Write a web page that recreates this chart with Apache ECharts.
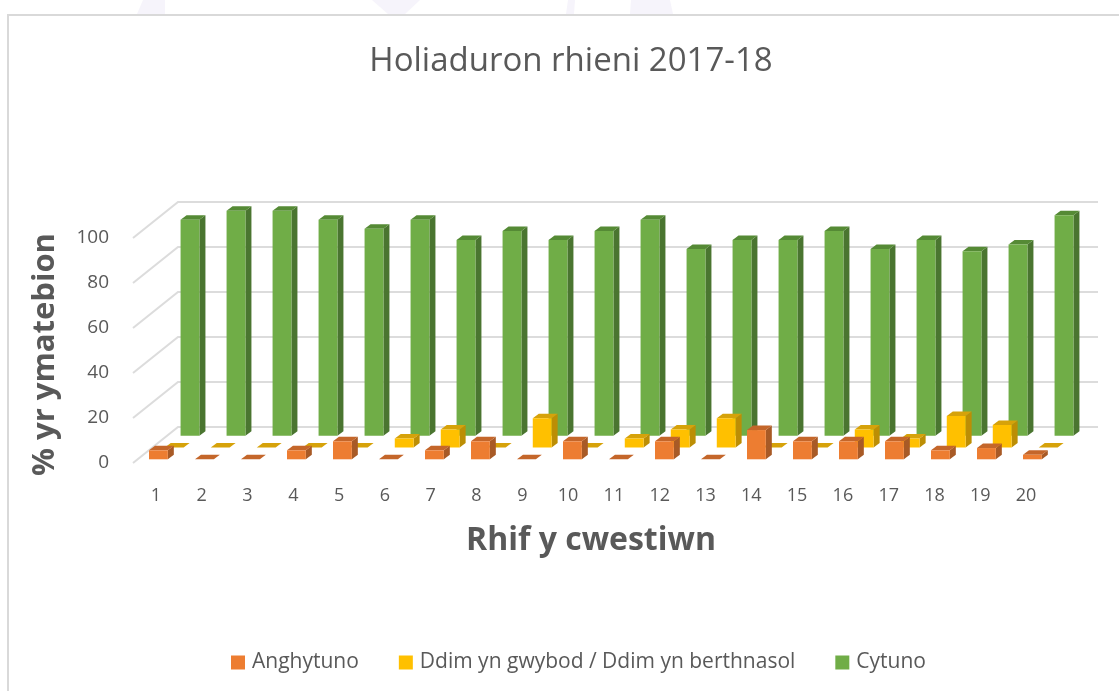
<!DOCTYPE html>
<html>
<head>
<meta charset="utf-8">
<title>Holiaduron rhieni 2017-18</title>
<script src="https://cdn.jsdelivr.net/npm/echarts@6/dist/echarts.min.js"></script>
<style>
  html, body { margin: 0; padding: 0; background: #fff; }
  #chart { width: 1119px; height: 691px; filter: blur(0.6px); }
</style>
</head>
<body>
<div id="chart"></div>
<script>
const questions = ["1","2","3","4","5","6","7","8","9","10","11","12","13","14","15","16","17","18","19","20"];
const anghytuno = [4,0,0,4,8,0,4,8,0,8,0,8,0,13,8,8,8,4,5,2];
const ddimYnGwybod = [0,0,0,0,0,4,8,0,13,0,4,8,13,0,0,8,4,14,10,0];
const cytuno = [96,100,100,96,92,96,87,91,87,91,96,83,87,87,91,83,87,82,85,98];
const gridValues = [0,20,40,60,80,100];

const textColor = "#595959";
const font = '"Open Sans", sans-serif';

// fake 3D: each row of bars sits further back on the floor
function barRenderer(row, colors) {
  return function (params, api) {
    const i = api.value(0);
    const base = api.coord([i, 0]);
    const top = api.coord([i, api.value(1)]);
    const w = api.size([1, 0])[0] * 0.41;
    const x0 = base[0] + row.dx - w / 2;
    const x1 = x0 + w;
    const yb = base[1] + row.dy;
    const yt = top[1] + row.dy;
    const d = 6, e = 4.5;
    const poly = (points, fill) => ({ type: "polygon", shape: { points }, style: { fill } });
    return {
      type: "group",
      children: [
        poly([[x1, yt], [x1 + d, yt - e], [x1 + d, yb - e], [x1, yb]], colors.side),
        poly([[x0, yt], [x0 + d, yt - e], [x1 + d, yt - e], [x1, yt]], colors.top),
        poly([[x0, yt], [x1, yt], [x1, yb], [x0, yb]], colors.front),
      ],
    };
  };
}

function barSeries(name, values, row, colors, z) {
  return {
    name,
    type: "custom",
    xAxisIndex: 1,
    yAxisIndex: 1,
    z,
    itemStyle: { color: colors.front },
    data: values.map((v, i) => [i, v]),
    encode: { x: 0, y: 1 },
    renderItem: barRenderer(row, colors),
  };
}

// back wall and side wall lines
function wallLine(params, api) {
  const p = api.coord([0, api.value(0)]);
  const left = params.coordSys.x;
  const lineStyle = { stroke: "#dcdcdc", lineWidth: 2, fill: "none" };
  return {
    type: "polyline",
    shape: { points: [[left, p[1]], [left + 45, p[1] - 36], [left + 965, p[1] - 36]] },
    style: lineStyle,
  };
}

const watermark = [
  [[137, 14], [143, 0], [165, 0], [165, 14]],
  [[372, 0], [420, 0], [405, 14], [388, 14]],
  [[566, 14], [568, 0], [575, 0], [574, 14]],
  [[630, 14], [631, 0], [670, 0], [673, 14]],
].map((points) => ({
  type: "polygon",
  shape: { points },
  style: { fill: "#f6f4fb" },
  silent: true,
}));

const chart = echarts.init(document.getElementById("chart"));
chart.setOption({
  animation: false,
  backgroundColor: "#fff",
  textStyle: { fontFamily: font },
  graphic: [
    ...watermark,
    {
      type: "rect",
      shape: { x: 8, y: 15, width: 1300, height: 900 },
      style: { fill: "#fff", stroke: "#d9d9d9", lineWidth: 2 },
      silent: true,
      z: -1,
    },
  ],
  title: {
    text: "Holiaduron rhieni 2017-18",
    left: 566,
    top: 40,
    textAlign: "center",
    textStyle: { color: textColor, fontSize: 33, fontWeight: "normal", fontFamily: font },
  },
  legend: {
    data: ["Anghytuno", "Ddim yn gwybod / Ddim yn berthnasol", "Cytuno"],
    left: 231,
    top: 652,
    padding: 0,
    icon: "rect",
    itemWidth: 14,
    itemHeight: 14,
    itemGap: 40,
    textStyle: { color: textColor, fontSize: 21, fontFamily: font, padding: [0, 0, 0, 2] },
  },
  grid: [
    // labels sit on a slightly tighter spacing than the bars
    { left: 133, top: 238, width: 916, height: 225 },
    { left: 135.4, top: 238, width: 920, height: 225 },
  ],
  xAxis: [
    {
      type: "category",
      gridIndex: 0,
      data: questions,
      axisLine: { show: false },
      axisTick: { show: false },
      axisLabel: { color: textColor, fontSize: 18, margin: 24 },
      name: "Rhif y cwestiwn",
      nameLocation: "middle",
      nameGap: 62,
      nameTextStyle: { color: textColor, fontSize: 32, fontWeight: "bold" },
    },
    { type: "category", gridIndex: 1, data: questions, show: false },
  ],
  yAxis: [
    {
      type: "value",
      gridIndex: 0,
      min: 0,
      max: 100,
      interval: 20,
      axisLine: { show: false },
      axisTick: { show: false },
      splitLine: { show: false },
      axisLabel: { color: textColor, fontSize: 19, margin: 24 },
      name: "% yr ymatebion",
      nameLocation: "middle",
      nameGap: 72,
      nameTextStyle: { color: textColor, fontSize: 31, fontWeight: "bold", padding: [0, 8, 0, 0] },
    },
    { type: "value", gridIndex: 1, min: 0, max: 100, interval: 20, show: false },
  ],
  series: [
    barSeries("Anghytuno", anghytuno, { dx: 0, dy: -3.7 }, { front: "#ed7d31", side: "#a85a26", top: "#c4662a" }, 5),
    barSeries("Ddim yn gwybod / Ddim yn berthnasol", ddimYnGwybod, { dx: 15.8, dy: -15.5 }, { front: "#ffc000", side: "#bc8e05", top: "#d6a20a" }, 4),
    barSeries("Cytuno", cytuno, { dx: 31.6, dy: -27.3 }, { front: "#70ad47", side: "#4a7530", top: "#558a35" }, 3),
    {
      name: "wall",
      type: "custom",
      xAxisIndex: 0,
      yAxisIndex: 0,
      z: 1,
      data: gridValues.map((v) => [v]),
      encode: { y: 0 },
      renderItem: wallLine,
    },
  ],
});
</script>
</body>
</html>
